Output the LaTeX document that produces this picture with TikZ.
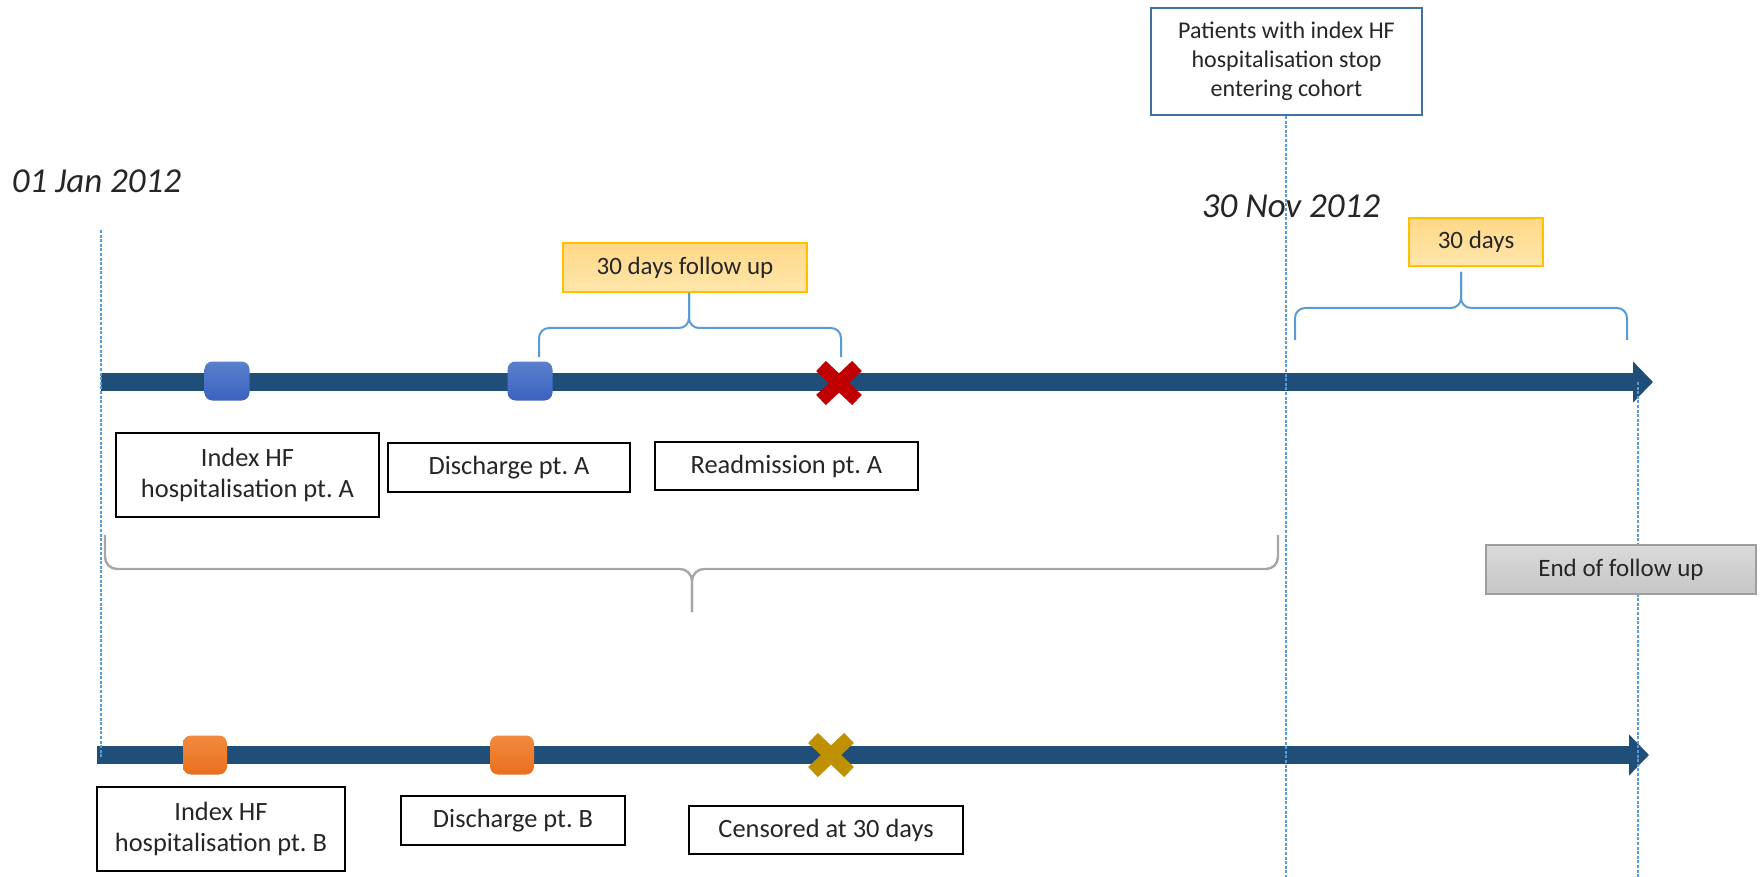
\documentclass[tikz,border=0pt]{standalone}
\usepackage{fontspec}
\setmainfont{Carlito}
\usetikzlibrary{arrows.meta}
\frenchspacing
\definecolor{lineblue}{HTML}{1F4E79}
\definecolor{dashblue}{HTML}{5B9BD5}
\definecolor{braceblue}{HTML}{5B9BD5}
\definecolor{bracegrey}{HTML}{A6A6A6}
\definecolor{sqblueA}{HTML}{5A80CE}
\definecolor{sqblueB}{HTML}{3A63BE}
\definecolor{sqorangeA}{HTML}{F28A3E}
\definecolor{sqorangeB}{HTML}{E8701E}
\definecolor{readmred}{HTML}{C00000}
\definecolor{censgold}{HTML}{BF9000}
\definecolor{fuyellowA}{HTML}{FFD887}
\definecolor{fuyellowB}{HTML}{FFE6AC}
\definecolor{fuborder}{HTML}{FFC000}
\definecolor{endgreyA}{HTML}{DADADA}
\definecolor{endgreyB}{HTML}{C6C6C6}
\definecolor{stopborder}{HTML}{41719C}
\definecolor{txtgrey}{HTML}{262626}
\newcommand{\myfontbox}{\fontsize{12.5}{15}\selectfont}
\newcommand{\myfontlabel}{\fontsize{13.2}{15.8}\selectfont}
\newcommand{\myfontstop}{\fontsize{12}{14.5}\selectfont}
\newcommand{\myfontdate}{\fontsize{17.5}{21}\selectfont\itshape}
\tikzset{
	timeline/.style={line width=9pt, lineblue, -{Triangle[length=10pt,width=20pt]}},
	daymark/.style={draw=dashblue, line width=0.75pt, dash pattern=on 1.5pt off 0.8pt},
	txtbox/.style={draw=black, line width=0.7pt, fill=white, align=center, inner sep=0pt, text=txtgrey, font=\myfontlabel},
	fubox/.style={txtbox, font=\myfontbox, draw=fuborder, top color=fuyellowA, bottom color=fuyellowB},
	endbox/.style={txtbox, font=\myfontbox, draw=endgreyB!80!black, top color=endgreyA, bottom color=endgreyB},
	bluesq/.style={rounded corners=4pt, inner sep=0pt, minimum width=22.5pt, minimum height=19.5pt, top color=sqblueA, bottom color=sqblueB},
	orangesq/.style={rounded corners=4pt, inner sep=0pt, minimum width=22pt, minimum height=19.5pt, top color=sqorangeA, bottom color=sqorangeB},
	bluebrace/.style={braceblue, line width=1pt, rounded corners=5pt},
	greybrace/.style={bracegrey, line width=1.2pt, rounded corners=6pt}
}
\begin{document}
\begin{tikzpicture}[x=0.5pt,y=-0.5pt]
	\newcommand{\mycross}[2]{
		\draw[#2, line width=7pt] ([shift={(-18,-17)}]#1) -- ([shift={(18,17)}]#1);
		\draw[#2, line width=7pt] ([shift={(-18,17)}]#1) -- ([shift={(18,-17)}]#1);
	}
	\useasboundingbox (0,0) rectangle (1762,877);
	%Timelines of the two patients
	\coordinate (startA) at (101,382);
	\coordinate (endA) at (1653,382);
	\coordinate (startB) at (97,755);
	\coordinate (endB) at (1649,755);
	\draw[timeline] (startA) -- (endA);
	\draw[timeline] (startB) -- (endB);
	%Dashed marks of the dates
	\coordinate (janTop) at (101,230);
	\coordinate (janBot) at (101,757);
	\coordinate (novTop) at (1286,116);
	\coordinate (novBot) at (1286,877);
	\coordinate (endTop) at (1638,382);
	\coordinate (endBot) at (1638,877);
	\draw[daymark] (janTop) -- (janBot);
	\draw[daymark] (novTop) -- (novBot);
	\draw[daymark] (endTop) -- (endBot);
	%Dates
	\node[text=txtgrey, font=\myfontdate] (jan) at (96.5,181) {01 Jan 2012};
	\node[text=txtgrey, font=\myfontdate] (nov) at (1291,206) {30 Nov 2012};
	%Events of patient A
	\node[bluesq] (hospA) at (227,381) {};
	\node[bluesq] (dischA) at (530,381) {};
	\coordinate (readmA) at (839,383);
	\mycross{readmA}{readmred}
	%Events of patient B
	\node[orangesq] (hospB) at (205,755) {};
	\node[orangesq] (dischB) at (512,755) {};
	\coordinate (censB) at (831,755);
	\mycross{censB}{censgold}
	%Labels of patient A
	\node[txtbox, minimum width=131.5pt, minimum height=42pt] (hospAtxt) at (247.5,475) {Index HF\\hospitalisation pt. A};
	\node[txtbox, minimum width=121pt, minimum height=24.5pt] (dischAtxt) at (509,467.5) {Discharge pt. A};
	\node[txtbox, minimum width=131.5pt, minimum height=24pt] (readmAtxt) at (786.5,466) {Readmission pt. A};
	%Labels of patient B
	\node[txtbox, minimum width=124pt, minimum height=42pt] (hospBtxt) at (221,829) {Index HF\\hospitalisation pt. B};
	\node[txtbox, minimum width=112pt, minimum height=24.5pt] (dischBtxt) at (513,820.5) {Discharge pt. B};
	\node[txtbox, minimum width=137pt, minimum height=24pt] (censBtxt) at (826,830) {Censored at 30 days};
	%Cohort entry stops
	\node[txtbox, font=\myfontstop, draw=stopborder, minimum width=135.5pt, minimum height=53.5pt] (stop) at (1286.5,61.5) {Patients with index HF\\hospitalisation stop\\entering cohort};
	%30 days follow up of patient A
	\node[fubox, minimum width=122pt, minimum height=24.5pt] (fuA) at (685,267.5) {30 days follow up};
	\coordinate (fuL) at (539,357);
	\coordinate (fuR) at (841,357);
	\coordinate (fuTip) at (689,293);
	\draw[bluebrace] (fuL) -- (539,328) -- (689,328) -- (fuTip);
	\draw[bluebrace] (fuR) -- (841,328) -- (689,328) -- (fuTip);
	%30 days after the last entry
	\node[fubox, minimum width=67pt, minimum height=24pt] (fuEnd) at (1476,242) {30 days};
	\coordinate (dayL) at (1295,340);
	\coordinate (dayR) at (1627,340);
	\coordinate (dayTip) at (1461,272);
	\draw[bluebrace] (dayL) -- (1295,308) -- (1461,308) -- (dayTip);
	\draw[bluebrace] (dayR) -- (1627,308) -- (1461,308) -- (dayTip);
	%Entry period
	\coordinate (entL) at (105,535);
	\coordinate (entR) at (1278,535);
	\coordinate (entTip) at (692,612);
	\draw[greybrace] (entL) -- (105,569) -- (692,569) -- (entTip);
	\draw[greybrace] (entR) -- (1278,569) -- (692,569) -- (entTip);
	%End of follow up
	\node[endbox, minimum width=135pt, minimum height=24.5pt] (endfu) at (1621,569.5) {End of follow up};
\end{tikzpicture}
\end{document}
